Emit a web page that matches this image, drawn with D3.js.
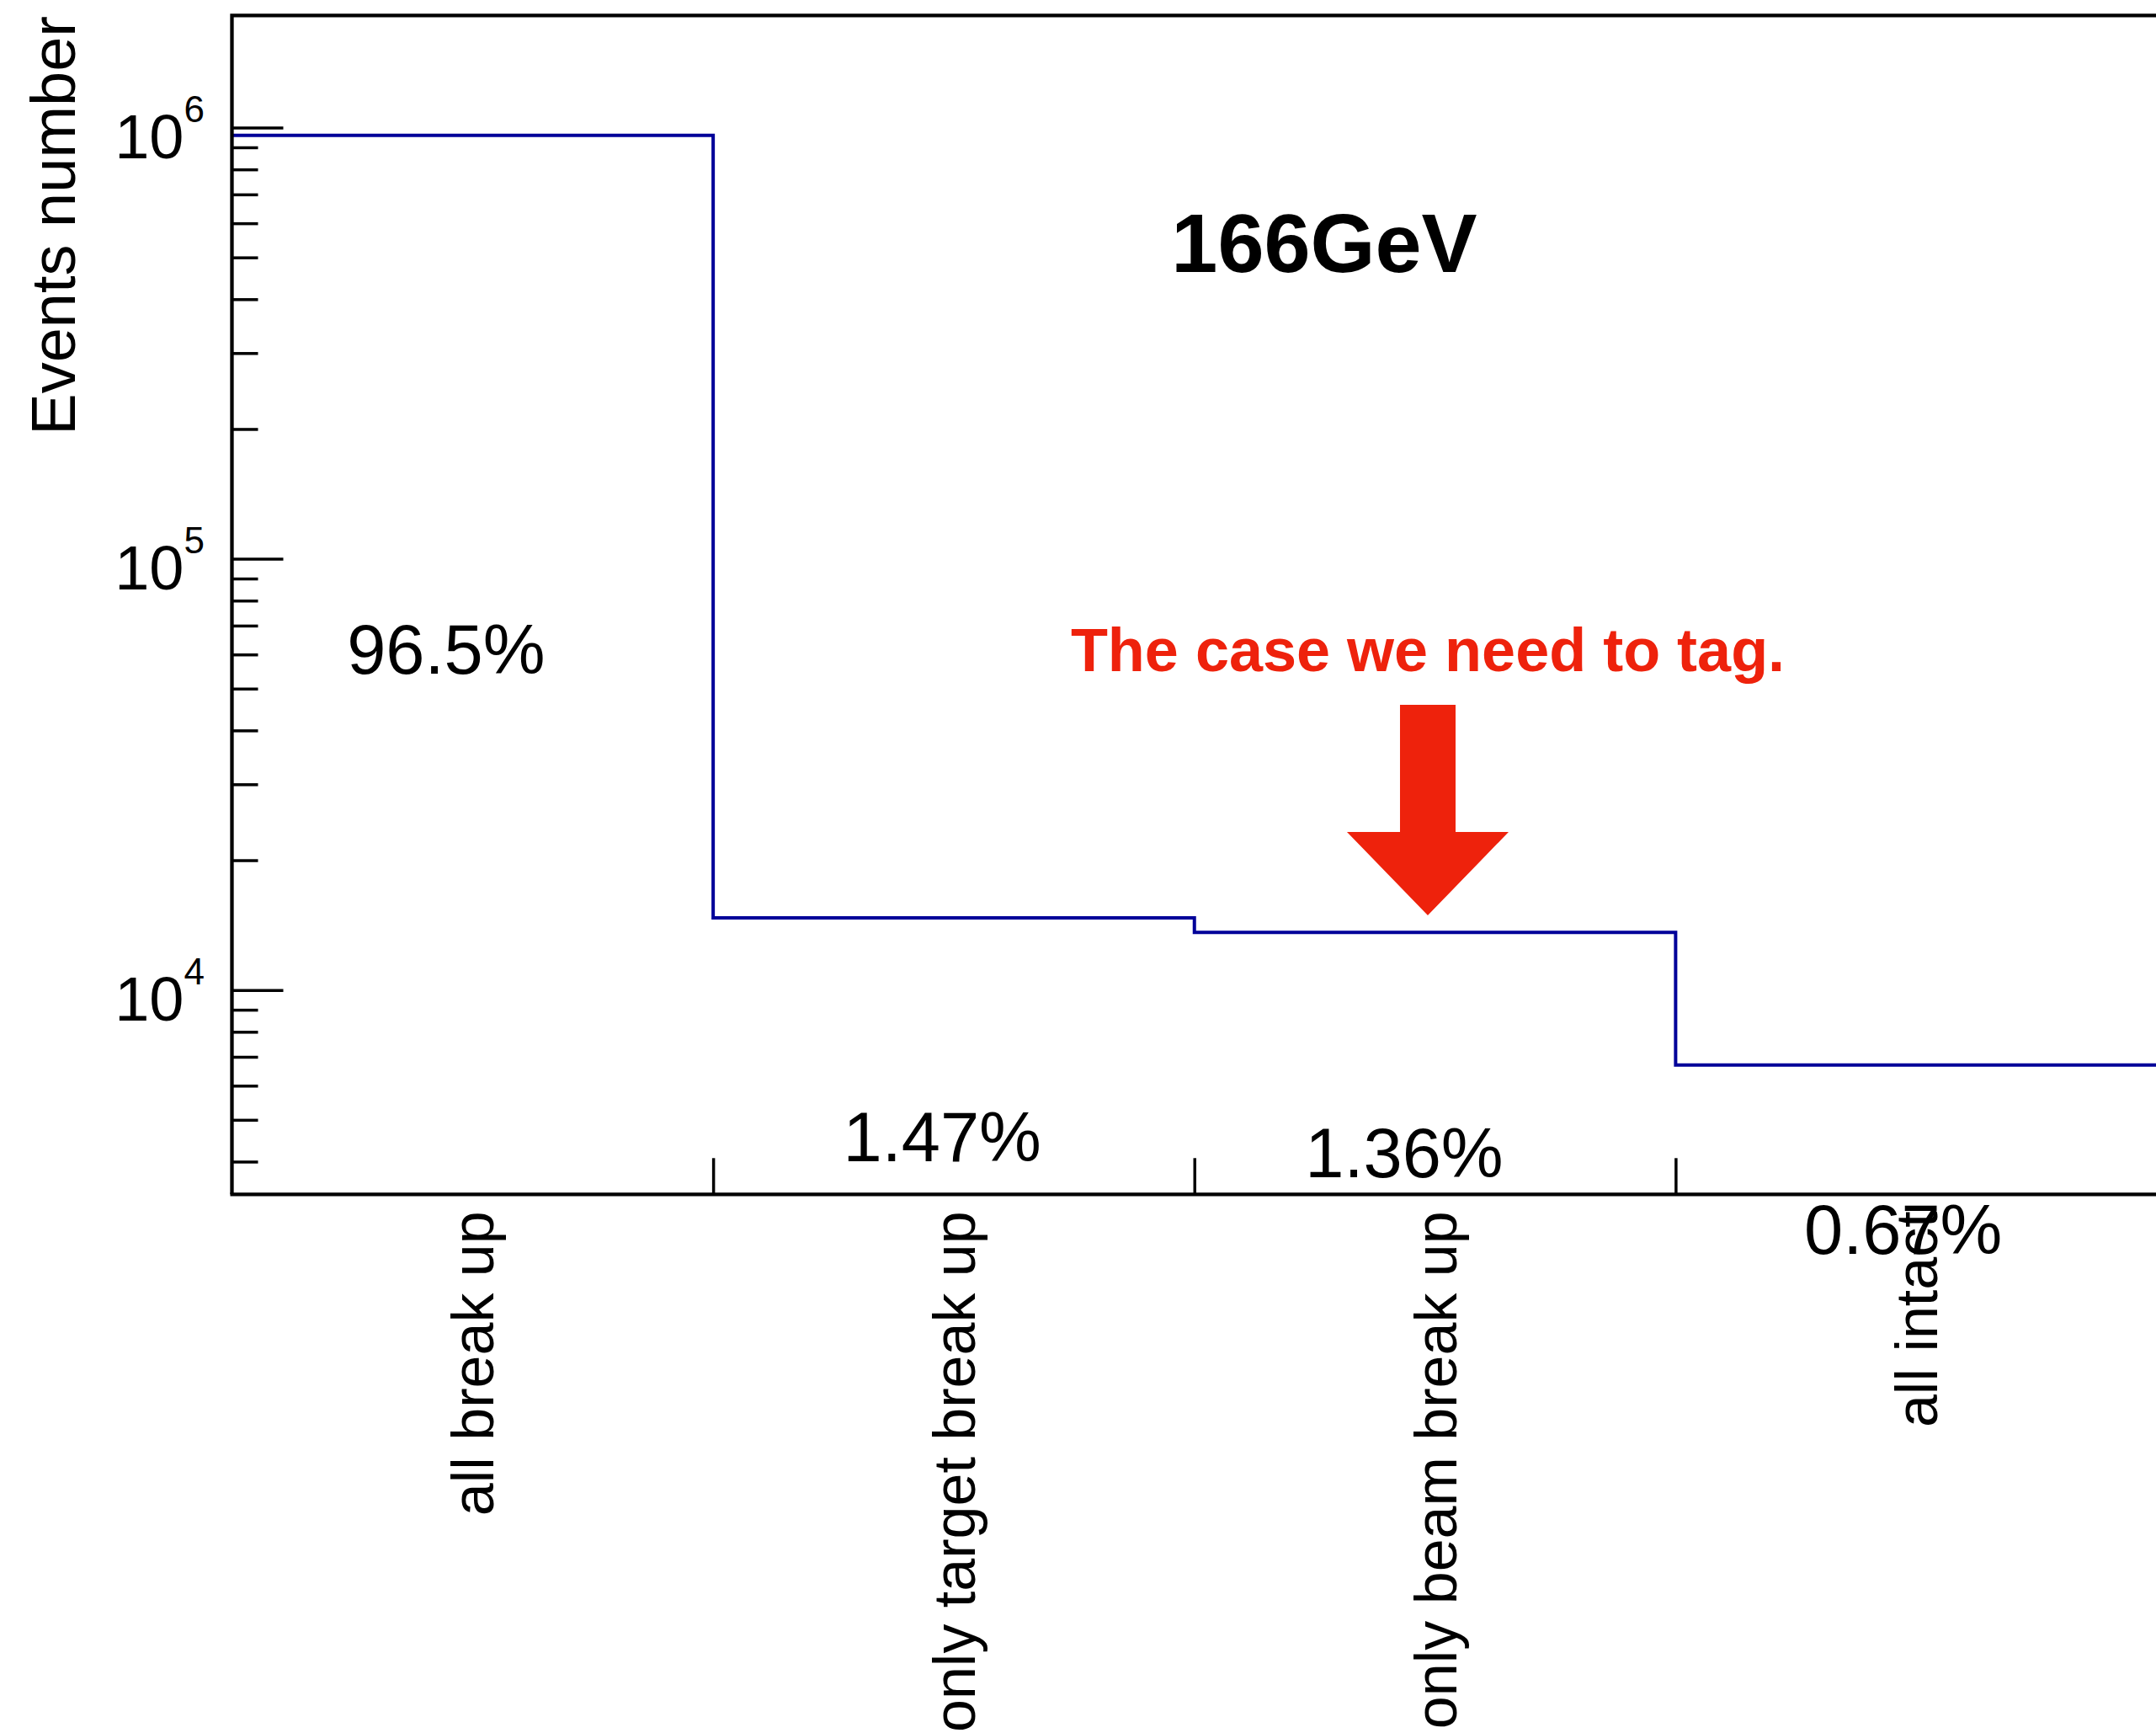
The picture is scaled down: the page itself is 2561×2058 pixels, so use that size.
<!DOCTYPE html>
<html>
<head>
<meta charset="utf-8">
<script src="https://cdn.jsdelivr.net/npm/d3@7"></script>
<style>
  body { margin: 0; background: #fff; }
  svg { display: block; }
  text { font-family: "Liberation Sans", Arial, Helvetica, sans-serif; }
</style>
</head>
<body>
<svg id="chart" width="2561" height="2058"></svg>
<script>
// bin categories and event counts
const categories = ["all break up", "only target break up", "only beam break up", "all intact"];
const events = [959000, 14700, 13600, 6700];
const percentLabels = ["96.5%", "1.47%", "1.36%", "0.67%"];
const decadeExponents = [4, 5, 6];
const title = "166GeV";
const note = "The case we need to tag.";

// layout
const W = 2561, H = 2058;
const padL = 275.5, padR = 2562, padT = 18.3, padB = 1418.3;
const yMin = 3359, yMax = 1.8205e6;

const svg = d3.select("#chart");
svg.append("rect").attr("width", W).attr("height", H).attr("fill", "#fff");

let x = d3.scaleLinear().domain([0, categories.length]).range([padL, padR]);
let y = d3.scaleLog().domain([yMin, yMax]).range([padB, padT]);

// y ticks: majors at decades, minors at 2..9
let majors = decadeExponents.map(e => Math.pow(10, e));
let minors = [];
for (let e = 3; e <= 6; e++) {
    for (let m = 2; m <= 9; m++) {
        let v = m * Math.pow(10, e);
        if (v >= yMin && v <= yMax) minors.push(v);
    }
}

let yAxis = d3.axisRight(y)
    .tickValues(majors.concat(minors))
    .tickFormat("")
    .tickSizeOuter(0);
let yg = svg.append("g").attr("transform", "translate(" + padL + ",0)").call(yAxis);
yg.select(".domain").remove();
yg.selectAll(".tick line")
    .attr("x2", d => majors.includes(d) ? 61 : 31)
    .attr("stroke", "#000")
    .attr("stroke-width", 3.5);

// x ticks at bin edges, pointing up into the frame
let xAxis = d3.axisTop(x)
    .tickValues(d3.range(1, categories.length))
    .tickFormat("")
    .tickSize(43)
    .tickSizeOuter(0);
let xg = svg.append("g").attr("transform", "translate(0," + padB + ")").call(xAxis);
xg.select(".domain").remove();
xg.selectAll(".tick line").attr("stroke", "#000").attr("stroke-width", 3.5);

// histogram outline
let pts = events.map((v, i) => [i, v]);
pts.push([events.length, events[events.length - 1]]);
let line = d3.line()
    .x(d => x(d[0]))
    .y(d => y(d[1]))
    .curve(d3.curveStepAfter);
svg.append("path")
    .attr("d", line(pts))
    .attr("fill", "none")
    .attr("stroke", "#000099")
    .attr("stroke-width", 4);

// frame
svg.append("path")
    .attr("d", "M" + padL + "," + padB + "V" + padT + "H" + (W + 10))
    .attr("fill", "none").attr("stroke", "#000").attr("stroke-width", 4.3);
svg.append("line")
    .attr("x1", padL - 2).attr("x2", W + 10)
    .attr("y1", padB).attr("y2", padB)
    .attr("stroke", "#000").attr("stroke-width", 4.3);

// y tick labels 10^n
decadeExponents.forEach(e => {
    let t = svg.append("text")
        .attr("x", 243)
        .attr("y", y(Math.pow(10, e)) + 36)
        .attr("text-anchor", "end")
        .attr("font-size", 74);
    t.append("tspan").text("10");
    t.append("tspan").attr("font-size", 44).attr("dy", -43).text(e);
});

// y axis title
svg.append("text")
    .attr("transform", "translate(89,19) rotate(-90)")
    .attr("text-anchor", "end")
    .attr("font-size", 74)
    .text("Events number");

// bin labels, vertical
categories.forEach((c, i) => {
    svg.append("text")
        .attr("transform", "translate(" + (x(i + 0.5) + 25) + "," + (padB + 20) + ") rotate(-90)")
        .attr("text-anchor", "end")
        .attr("font-size", 70)
        .text(c);
});

// percentage annotations
const pctPos = [[0.445, 800], [1.476, 1379], [2.436, 1398], [3.473, 1489]];
percentLabels.forEach((p, i) => {
    svg.append("text")
        .attr("x", x(pctPos[i][0]))
        .attr("y", pctPos[i][1])
        .attr("text-anchor", "middle")
        .attr("font-size", 83)
        .text(p);
});

// title
svg.append("text")
    .attr("x", 1573).attr("y", 323)
    .attr("text-anchor", "middle")
    .attr("font-size", 99)
    .attr("font-weight", "bold")
    .text(title);

// red note and arrow
const red = "#ee220c";
svg.append("text")
    .attr("x", 1696).attr("y", 797)
    .attr("text-anchor", "middle")
    .attr("font-size", 72)
    .attr("font-weight", "bold")
    .attr("fill", red)
    .text(note);

let tipX = x(2.485), tipY = 1087;
svg.append("path")
    .attr("d", d3.line()([
        [tipX - 33, tipY - 250], [tipX + 33, tipY - 250], [tipX + 33, tipY - 99],
        [tipX + 96, tipY - 99], [tipX, tipY], [tipX - 96, tipY - 99],
        [tipX - 33, tipY - 99]
    ]) + "Z")
    .attr("fill", red);
</script>
</body>
</html>
